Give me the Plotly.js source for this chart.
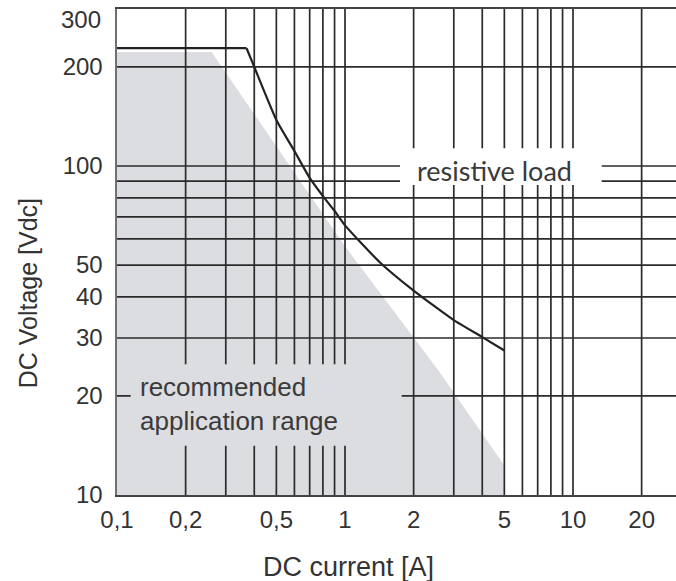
<!DOCTYPE html>
<html><head><meta charset="utf-8">
<script src="https://cdn.plot.ly/plotly-3.0.1.min.js"></script>
<style>html,body{margin:0;padding:0;background:#fff;}#chart{width:676px;height:581px;}</style>
</head><body><div id="chart"></div>
<script>
// Resistive load limit curve (DC current [A], DC voltage [V])
const curveCurrent = [0.1, 0.37, 0.4, 0.5, 0.6, 0.7, 0.8, 0.9, 1.0, 1.42, 2.0, 3.0, 4.0, 5.0];
const curveVoltage = [228, 228, 200, 138, 111, 92, 81, 73, 66, 51, 41.8, 34, 30.2, 27.5];
// Recommended application range (boundary polygon)
const rangeCurrent = [0.1, 0.1, 0.26, 1.0, 2.57, 5.0, 5.0];
const rangeVoltage = [10, 222, 222, 57, 23.9, 12.3, 10];
// Axis ticks
const xTickVals = [0.1, 0.2, 0.5, 1, 2, 5, 10, 20];
const xTickText = ['0,1', '0,2', '0,5', '1', '2', '5', '10', '20'];
const yTickVals = [10, 20, 30, 40, 50, 100, 200];
const yTickText = ['10', '20', '30', '40', '50', '100', '200'];
// Grid lines
const xGrid = [0.2, 0.3, 0.4, 0.5, 0.6, 0.7, 0.8, 0.9, 1, 2, 3, 4, 5, 6, 7, 8, 9, 10, 20];
const yGrid = [20, 30, 40, 50, 60, 70, 80, 90, 100, 200];
const xMin = 0.1, xMax = 28.3, yMin = 10, yMax = 300;

const gx = [], gy = [];
xGrid.forEach(v => { gx.push(v, v, null); gy.push(yMin, yMax, null); });
yGrid.forEach(v => { gx.push(xMin, xMax, null); gy.push(v, v, null); });

const FONT = 'Liberation Sans, Arial, sans-serif';
const TXT = '#333333';
const CURVE = { color: '#222222', width: 2.2 };

const traces = [
  { x: rangeCurrent, y: rangeVoltage, type: 'scatter', mode: 'lines', fill: 'toself',
    fillcolor: '#dcdde0', line: { width: 0, color: '#dcdde0' }, hoverinfo: 'skip', showlegend: false },
  { x: gx, y: gy, type: 'scatter', mode: 'lines', connectgaps: false,
    line: { color: '#2b2b2b', width: 1.7 }, hoverinfo: 'skip', showlegend: false },
  // flat part of the resistive-load limit
  { x: curveCurrent.slice(0, 2), y: curveVoltage.slice(0, 2), type: 'scatter', mode: 'lines',
    line: CURVE, showlegend: false },
  // falling part of the resistive-load limit
  { x: curveCurrent.slice(1), y: curveVoltage.slice(1), type: 'scatter', mode: 'lines',
    line: Object.assign({ shape: 'spline', smoothing: 0.5 }, CURVE), showlegend: false }
];

const layout = {
  width: 676, height: 581,
  margin: { l: 117, r: 0, t: 9, b: 86 },
  paper_bgcolor: '#ffffff', plot_bgcolor: '#ffffff',
  xaxis: { type: 'log', range: [Math.log10(xMin), Math.log10(xMax)], showgrid: false, zeroline: false,
    tickvals: xTickVals, ticktext: xTickText, ticks: '', ticklabelstandoff: 2,
    tickfont: { family: FONT, size: 24, color: TXT },
    showline: true, linecolor: '#444444', linewidth: 2, mirror: true },
  yaxis: { type: 'log', range: [Math.log10(yMin), Math.log10(yMax)], showgrid: false, zeroline: false,
    tickvals: yTickVals, ticktext: yTickText, ticks: '', ticklabelstandoff: 7,
    tickfont: { family: FONT, size: 24, color: TXT },
    showline: true, linecolor: '#707070', linewidth: 2.5 },
  shapes: [
    { type: 'rect', xref: 'paper', yref: 'paper', x0: 0.5063, x1: 0.8671, y0: 0.6379, y1: 0.7134,
      fillcolor: '#ffffff', line: { width: 0 }, layer: 'above' },
    { type: 'rect', xref: 'paper', yref: 'paper', x0: 0.0245, x1: 0.5093, y0: 0.1014, y1: 0.2689,
      fillcolor: '#dcdde0', line: { width: 0 }, layer: 'above' }
  ],
  annotations: [
    { text: '300', xref: 'paper', yref: 'paper', x: -0.025, y: 0.979, xanchor: 'right', yanchor: 'middle',
      showarrow: false, font: { family: FONT, size: 24, color: TXT } },
    { text: 'resistive load', xref: 'paper', yref: 'paper', x: 0.6748, y: 0.667, xanchor: 'center', yanchor: 'middle',
      showarrow: false, font: { family: 'Lato, sans-serif', size: 27, color: '#3a3a3a' } },
    { text: 'recommended<br>application range', xref: 'paper', yref: 'paper', x: 0.038, y: 0.187,
      xanchor: 'left', yanchor: 'middle', align: 'left', showarrow: false,
      font: { family: FONT, size: 26, color: '#3a3a3a' } },
    { text: 'DC Voltage [Vdc]', xref: 'paper', yref: 'paper', x: -0.1592, y: 0.415, textangle: -90,
      xanchor: 'center', yanchor: 'middle', showarrow: false, font: { family: FONT, size: 25, color: TXT } },
    { text: 'DC current [A]', xref: 'paper', yref: 'paper', x: 0.415, y: -0.148,
      xanchor: 'center', yanchor: 'middle', showarrow: false, font: { family: FONT, size: 27, color: TXT } }
  ]
};

Plotly.newPlot('chart', traces, layout, { displayModeBar: false, staticPlot: true });
</script>
</body></html>
